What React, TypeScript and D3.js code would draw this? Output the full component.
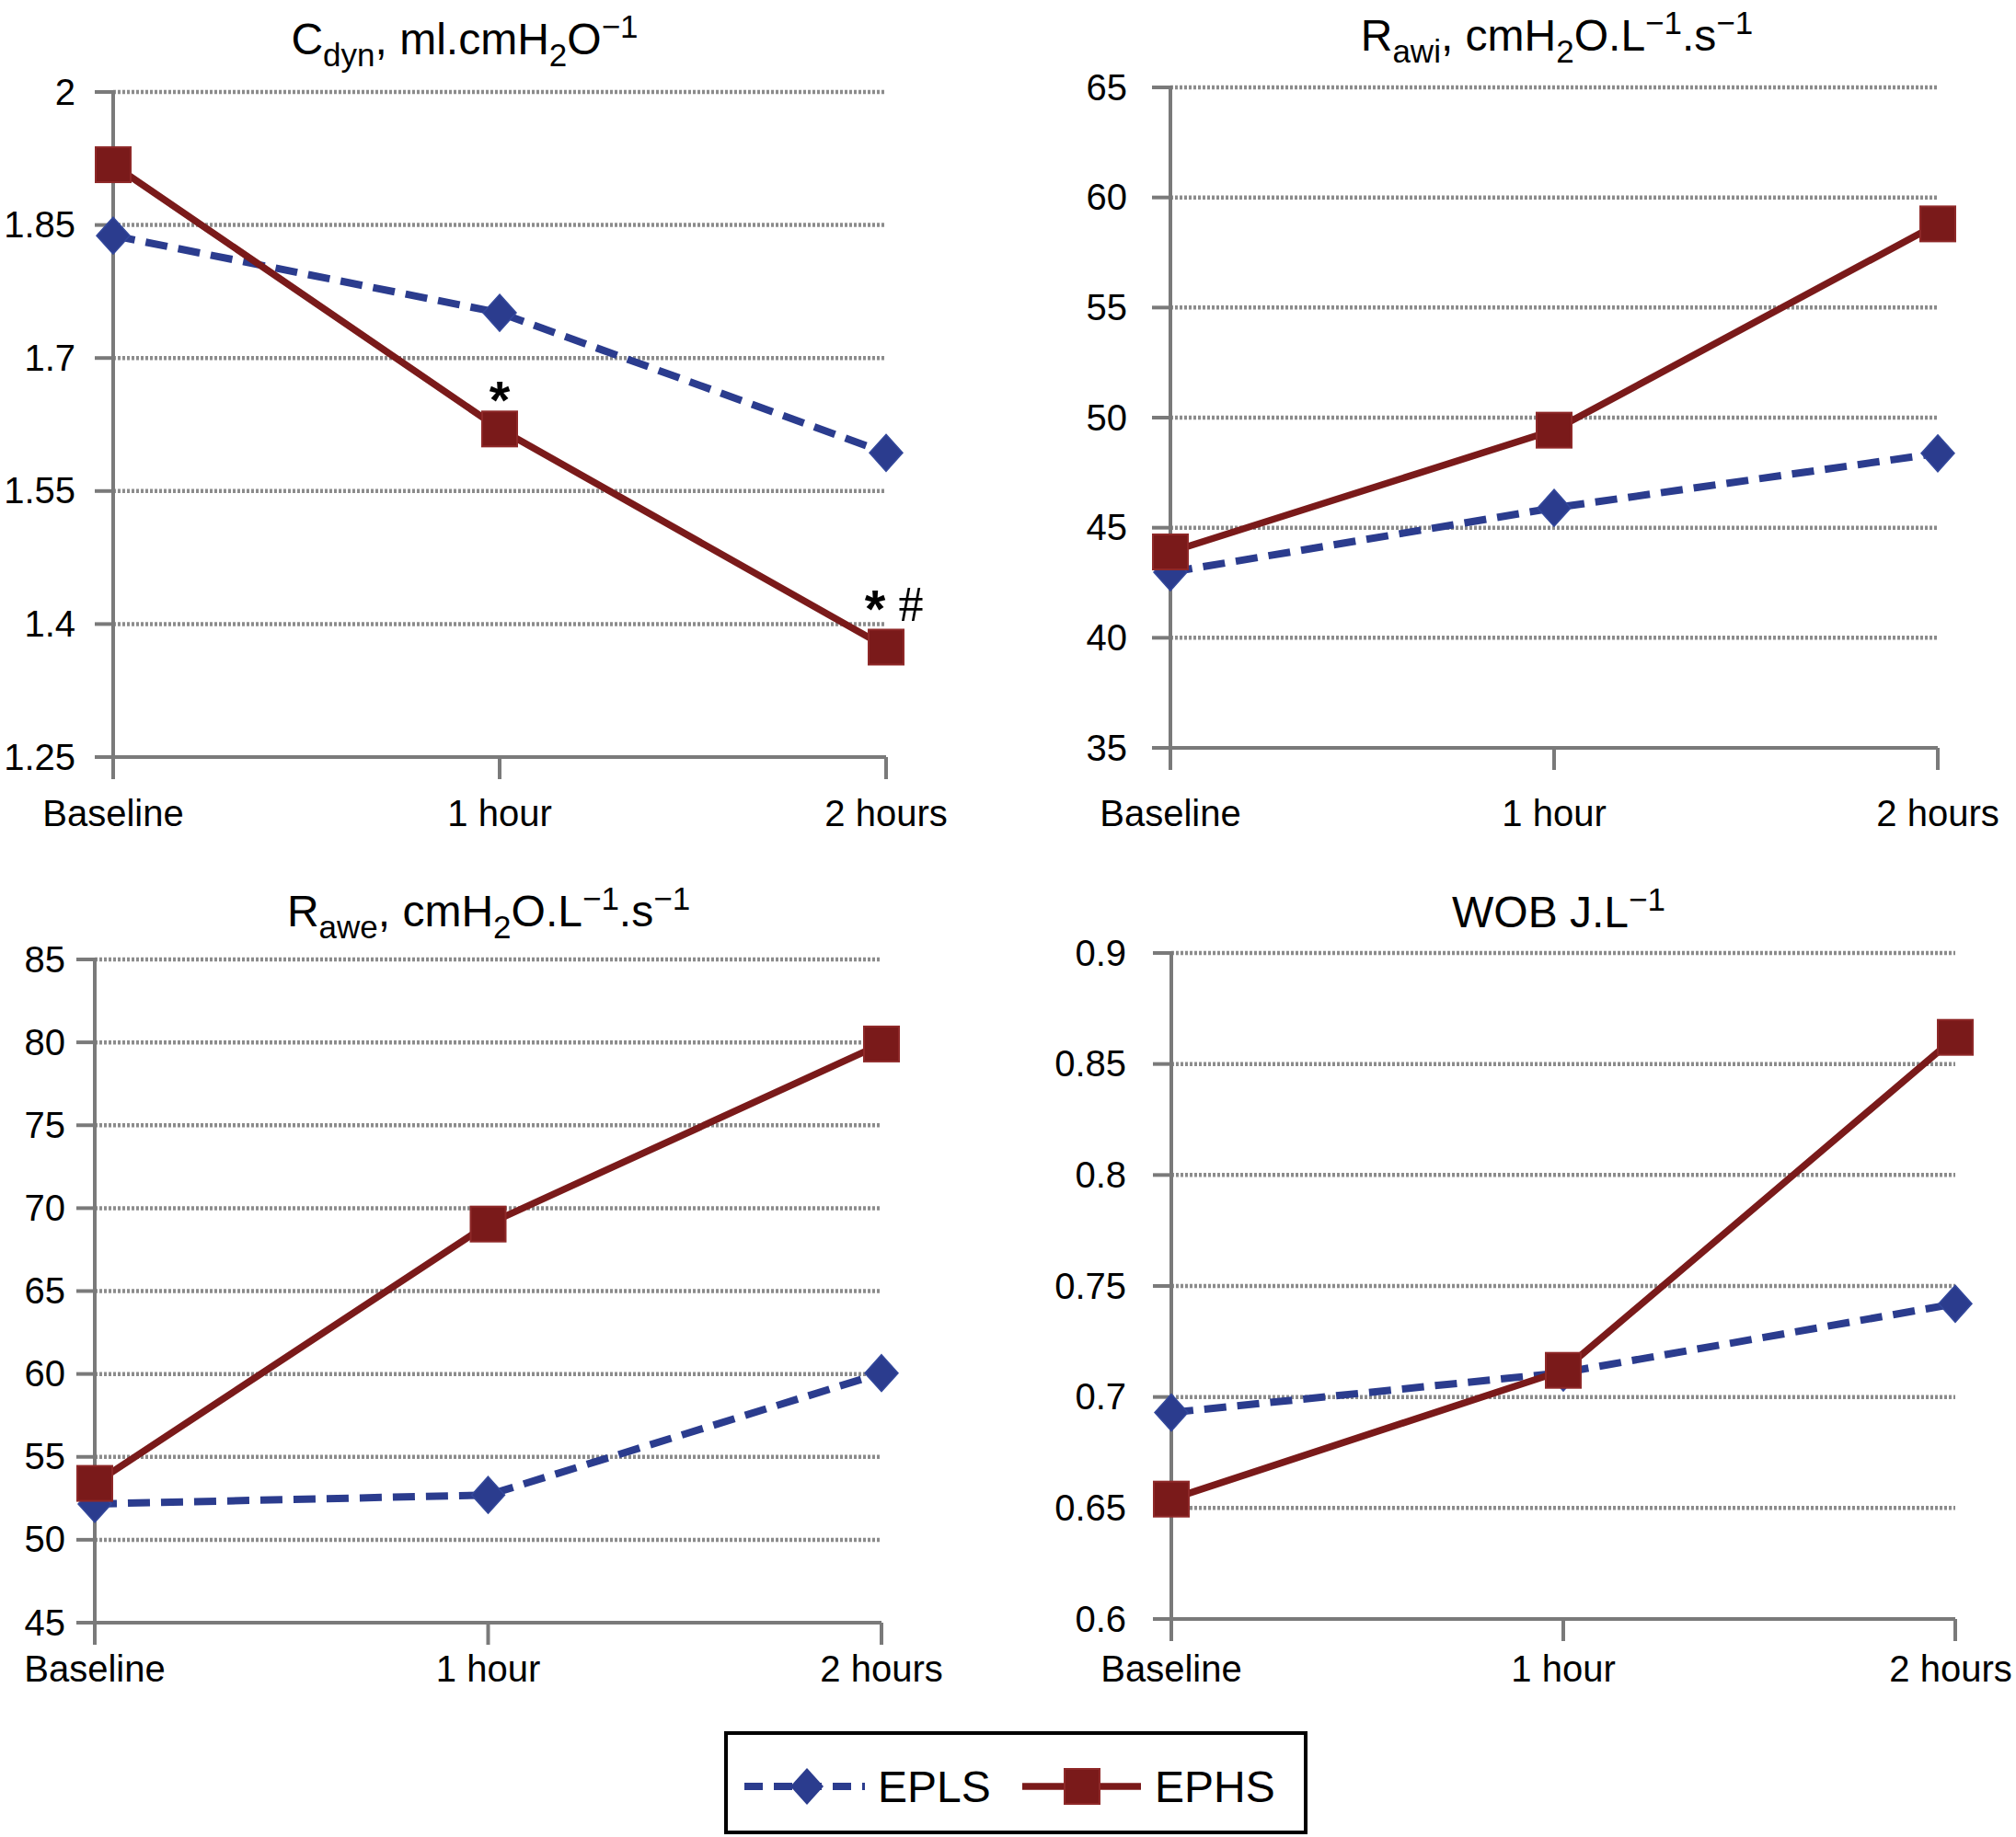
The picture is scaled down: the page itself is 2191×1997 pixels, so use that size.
import React from "react";
import * as d3 from "d3";

const categories = ["Baseline", "1 hour", "2 hours"];
const seriesNames = ["EPLS", "EPHS"];

const cdynEPLS = [1.838, 1.751, 1.593];
const cdynEPHS = [1.918, 1.62, 1.374];
const cdynTicks = [1.25, 1.4, 1.55, 1.7, 1.85, 2];
const cdynTickLabels = ["1.25", "1.4", "1.55", "1.7", "1.85", "2"];

const rawiEPLS = [42.98, 45.9, 48.38];
const rawiEPHS = [43.9, 49.43, 58.8];
const rawiTicks = [35, 40, 45, 50, 55, 60, 65];
const rawiTickLabels = ["35", "40", "45", "50", "55", "60", "65"];

const raweEPLS = [52.16, 52.7, 60.05];
const raweEPHS = [53.4, 69.04, 79.9];
const raweTicks = [45, 50, 55, 60, 65, 70, 75, 80, 85];
const raweTickLabels = ["45", "50", "55", "60", "65", "70", "75", "80", "85"];

const wobEPLS = [0.693, 0.711, 0.742];
const wobEPHS = [0.654, 0.712, 0.862];
const wobTicks = [0.6, 0.65, 0.7, 0.75, 0.8, 0.85, 0.9];
const wobTickLabels = ["0.6", "0.65", "0.7", "0.75", "0.8", "0.85", "0.9"];

// title pieces: n = normal, sub = subscript, sup = superscript
type Seg = [string, "n" | "sub" | "sup"];
const cdynTitle: Seg[] = [["C", "n"], ["dyn", "sub"], [", ml.cmH", "n"], ["2", "sub"], ["O", "n"], ["\u22121", "sup"]];
const rawiTitle: Seg[] = [["R", "n"], ["awi", "sub"], [", cmH", "n"], ["2", "sub"], ["O.L", "n"], ["\u22121", "sup"], [".s", "n"], ["\u22121", "sup"]];
const raweTitle: Seg[] = [["R", "n"], ["awe", "sub"], [", cmH", "n"], ["2", "sub"], ["O.L", "n"], ["\u22121", "sup"], [".s", "n"], ["\u22121", "sup"]];
const wobTitle: Seg[] = [["WOB J.L", "n"], ["\u22121", "sup"]];

// significance marks on the C_dyn panel (EPHS points)
const cdynMarks = [
  { cat: "1 hour", value: 1.62, star: "*", hash: "" },
  { cat: "2 hours", value: 1.374, star: "*", hash: "#" },
];

const BLUE = "#2b3c8e";
const RED = "#7a1a1a";
const AXIS = "#7a7a7a";
const GRID = "#8c8c8c";
const FONT = "'Liberation Sans', Arial, Helvetica, sans-serif";
const MAX_LABEL_X = 2120; // keep the last category label inside the picture

interface PanelProps {
  title: Seg[];
  epls: number[];
  ephs: number[];
  ticks: number[];
  tickLabels: string[];
  axisX: number;
  xEnd: number;
  yTop: number;
  yBot: number;
  labelX: number;
  catY: number;
  titleX: number;
  titleY: number;
  marks?: typeof cdynMarks;
}

function Title({ segs, x, y }: { segs: Seg[]; x: number; y: number }) {
  let shift = 0;
  return (
    <text x={x} y={y} textAnchor="middle" fontFamily={FONT} fontSize={48} fill="#000">
      {segs.map(([t, k], i) => {
        const target = k === "sub" ? 13 : k === "sup" ? -18 : 0;
        const dy = target - shift;
        shift = target;
        return (
          <tspan key={i} dy={dy} fontSize={k === "n" ? 48 : 35}>
            {t}
          </tspan>
        );
      })}
    </text>
  );
}

function Panel(p: PanelProps) {
  const x = d3.scalePoint<string>().domain(categories).range([p.axisX, p.xEnd]).padding(0);
  const y = d3
    .scaleLinear()
    .domain([p.ticks[0], p.ticks[p.ticks.length - 1]])
    .range([p.yBot, p.yTop]);

  const line = d3
    .line<number>()
    .x((_, i) => x(categories[i])!)
    .y((d) => y(d));

  const bottom = p.ticks[0];

  return (
    <g>
      <Title segs={p.title} x={p.titleX} y={p.titleY} />

      {/* gridlines */}
      {p.ticks.slice(1).map((t) => (
        <g key={t}>
          <line x1={p.axisX} x2={p.xEnd} y1={y(t)} y2={y(t)} stroke={GRID} strokeWidth={4.5} strokeDasharray="3 2" />
          <line x1={p.axisX - 20} x2={p.axisX} y1={y(t)} y2={y(t)} stroke={AXIS} strokeWidth={4} />
        </g>
      ))}

      {/* axes */}
      <line x1={p.axisX - 20} x2={p.xEnd} y1={y(bottom)} y2={y(bottom)} stroke={AXIS} strokeWidth={4} />
      <line x1={p.axisX} x2={p.axisX} y1={y(p.ticks[p.ticks.length - 1]) - 2} y2={y(bottom) + 24} stroke={AXIS} strokeWidth={4} />
      {categories.slice(1).map((c) => (
        <line key={c} x1={x(c)} x2={x(c)} y1={y(bottom)} y2={y(bottom) + 24} stroke={AXIS} strokeWidth={4} />
      ))}

      {/* tick labels */}
      {p.ticks.map((t, i) => (
        <text key={t} x={p.labelX} y={y(t)} dy="0.34em" textAnchor="end" fontFamily={FONT} fontSize={40} fill="#000">
          {p.tickLabels[i]}
        </text>
      ))}
      {categories.map((c) => (
        <text
          key={c}
          x={Math.min(x(c)!, MAX_LABEL_X)}
          y={p.catY}
          textAnchor="middle"
          fontFamily={FONT}
          fontSize={40}
          fill="#000"
        >
          {c}
        </text>
      ))}

      {/* EPLS */}
      <path d={line(p.epls)!} fill="none" stroke={BLUE} strokeWidth={8} strokeDasharray="24 12" />
      {p.epls.map((v, i) => {
        const cx = x(categories[i])!;
        const cy = y(v);
        return (
          <polygon
            key={i}
            points={`${cx},${cy - 20} ${cx + 18},${cy} ${cx},${cy + 20} ${cx - 18},${cy}`}
            fill={BLUE}
            stroke="#33489c"
            strokeWidth={1.5}
          />
        );
      })}

      {/* EPHS */}
      <path d={line(p.ephs)!} fill="none" stroke={RED} strokeWidth={7.5} />
      {p.ephs.map((v, i) => {
        const cx = x(categories[i])!;
        const cy = y(v);
        return <rect key={i} x={cx - 19} y={cy - 19} width={38} height={38} fill={RED} stroke="#8e2828" strokeWidth={2} />;
      })}

      {p.marks &&
        p.marks.map((m, i) => (
          <g key={i}>
            <text
              x={x(m.cat)! - (m.hash ? 12 : 0)}
              y={y(m.value) - (m.hash ? 21 : 11)}
              textAnchor="middle"
              fontFamily={FONT}
              fontWeight="bold"
              fontSize={58}
              fill="#000"
            >
              {m.star}
            </text>
            {m.hash && (
              <text
                x={x(m.cat)! + 27}
                y={y(m.value) - 28}
                textAnchor="middle"
                fontFamily="'Liberation Serif', serif"
                fontSize={54}
                fill="#000"
              >
                {m.hash}
              </text>
            )}
          </g>
        ))}
    </g>
  );
}

function Legend() {
  const cy = 1942;
  return (
    <g>
      <rect x={789} y={1884} width={630} height={108} fill="#fff" stroke="#000" strokeWidth={4} />
      <line x1={809} x2={940} y1={cy} y2={cy} stroke={BLUE} strokeWidth={8} strokeDasharray="20 12" />
      <polygon points={`877,${cy - 20} 895,${cy} 877,${cy + 20} 859,${cy}`} fill={BLUE} />
      <text x={954} y={cy + 17} fontFamily={FONT} fontSize={48} fill="#000">
        {seriesNames[0]}
      </text>
      <line x1={1111} x2={1240} y1={cy} y2={cy} stroke={RED} strokeWidth={7.5} />
      <rect x={1157} y={cy - 19} width={38} height={38} fill={RED} stroke="#8e2828" strokeWidth={2} />
      <text x={1255} y={cy + 17} fontFamily={FONT} fontSize={48} fill="#000">
        {seriesNames[1]}
      </text>
    </g>
  );
}

export default function App() {
  return (
    <div style={{ position: "absolute", left: 0, top: 0 }}>
      <svg width={2191} height={1997} style={{ display: "block", background: "#fff" }}>
        <Panel
          title={cdynTitle}
          epls={cdynEPLS}
          ephs={cdynEPHS}
          ticks={cdynTicks}
          tickLabels={cdynTickLabels}
          axisX={123}
          xEnd={963}
          yTop={100}
          yBot={823}
          labelX={82}
          catY={898}
          titleX={505}
          titleY={59}
          marks={cdynMarks}
        />
        <Panel
          title={rawiTitle}
          epls={rawiEPLS}
          ephs={rawiEPHS}
          ticks={rawiTicks}
          tickLabels={rawiTickLabels}
          axisX={1272}
          xEnd={2106}
          yTop={95}
          yBot={813}
          labelX={1225}
          catY={898}
          titleX={1692}
          titleY={55}
        />
        <Panel
          title={raweTitle}
          epls={raweEPLS}
          ephs={raweEPHS}
          ticks={raweTicks}
          tickLabels={raweTickLabels}
          axisX={103}
          xEnd={958}
          yTop={1043}
          yBot={1764}
          labelX={71}
          catY={1828}
          titleX={531}
          titleY={1007}
        />
        <Panel
          title={wobTitle}
          epls={wobEPLS}
          ephs={wobEPHS}
          ticks={wobTicks}
          tickLabels={wobTickLabels}
          axisX={1273}
          xEnd={2125}
          yTop={1036}
          yBot={1760}
          labelX={1224}
          catY={1828}
          titleX={1694}
          titleY={1008}
        />
        <Legend />
      </svg>
    </div>
  );
}
